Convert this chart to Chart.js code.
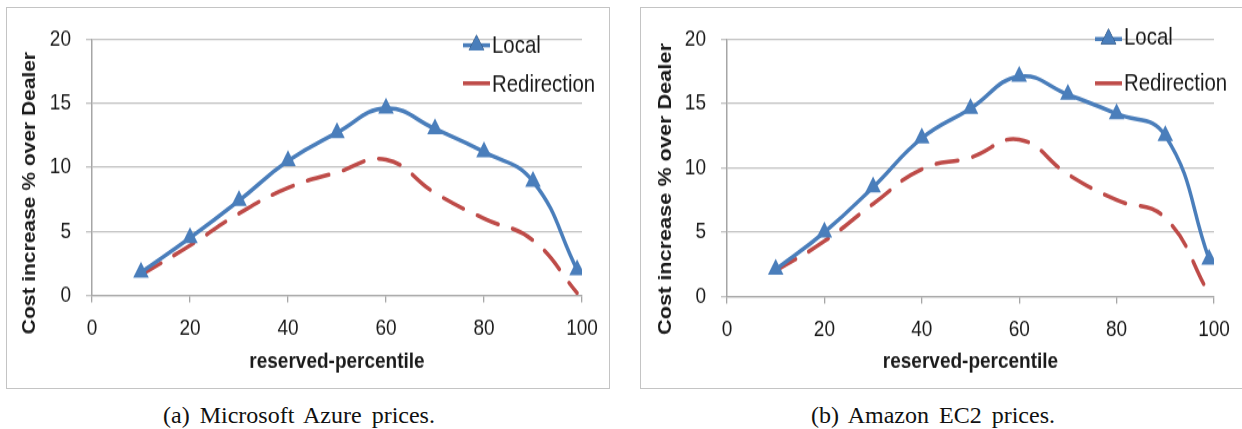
<!DOCTYPE html>
<html lang="en">
<head>
<meta charset="UTF-8">
<title>Cost increase over Dealer</title>
<script src="https://cdn.jsdelivr.net/npm/chart.js@4.4.1/dist/chart.umd.min.js"></script>
<style>
  body { margin: 0; width: 1242px; height: 429px; background: #fff; position: relative; overflow: hidden; }
  .panel { position: absolute; top: 7px; width: 602px; height: 380px; border: 1px solid #c4c4c4; overflow: hidden; }
  #panelA { left: 6px; }
  #panelB { left: 640px; width: 610px; }
  /* the figure is drawn a little squeezed, then stretched back vertically */
  .panel canvas { display: block; width: 602px; height: 322px; transform: scaleY(1.18); transform-origin: 0 0; }
  .caption { position: absolute; top: 403px; line-height: 24px; font-family: 'Liberation Serif', 'Times New Roman', serif; font-size: 24px; color: #111; white-space: nowrap; word-spacing: 4px; transform: translateX(-50%); }
</style>
</head>
<body>
<div class="panel" id="panelA"><canvas id="azure" width="602" height="322"></canvas></div>
<div class="panel" id="panelB"><canvas id="ec2" width="602" height="322"></canvas></div>
<div class="caption" style="left:299px">(a) Microsoft Azure prices.</div>
<div class="caption" style="left:933px">(b) Amazon EC2 prices.</div>

<script>
// reserved-percentile sample points
const percentiles = [10, 20, 30, 40, 50, 60, 70, 80, 90, 99];

// cost increase % over Dealer, Azure prices
const azureLocal = [1.8, 4.5, 7.4, 10.5, 12.7, 14.6, 13.0, 11.2, 8.9, 2.0];
const azureRedirection = [1.6, 3.9, 6.4, 8.4, 9.6, 10.6, 8.0, 6.0, 4.3, 0.2];

// cost increase % over Dealer, EC2 prices
const ec2Local = [2.1, 5.0, 8.5, 12.3, 14.6, 17.1, 15.7, 14.2, 12.5, 2.9];
const ec2Redirection = [2.0, 4.3, 7.2, 9.9, 10.8, 12.2, 9.5, 7.5, 6.1, 0.2];

const xTicks = [0, 20, 40, 60, 80, 100];
const yTicks = [0, 5, 10, 15, 20];

const BLUE = '#4a7ebb';
const RED = '#be4b48';
const INK = '#1a1a1a';
const SANS = "'Liberation Sans', Arial, sans-serif";

// rotated y title, placed freely inside the panel
const sideTitle = {
  id: 'sideTitle',
  afterDraw(chart, args, o) {
    const ctx = chart.ctx;
    ctx.save();
    ctx.translate(o.x, o.y);
    ctx.rotate(-Math.PI / 2);
    ctx.font = o.font;
    ctx.fillStyle = o.color;
    ctx.textAlign = 'center';
    ctx.textBaseline = 'middle';
    ctx.fillText(o.text, 0, 0);
    ctx.restore();
  }
};

// legend: short line sample (with marker for the Local series) + label
const boxLegend = {
  id: 'boxLegend',
  afterDraw(chart, args, o) {
    const ctx = chart.ctx;
    chart.data.datasets.forEach((ds, i) => {
      const base = o.baselines[i];
      const my = base - o.markerOffset[i];
      ctx.save();
      ctx.strokeStyle = ds.borderColor;
      ctx.lineWidth = 3.5;
      ctx.beginPath();
      ctx.moveTo(o.x, my);
      ctx.lineTo(o.x + 27, my);
      ctx.stroke();
      if (ds.pointRadius > 0) {
        Chart.helpers.drawPoint(ctx, { pointStyle: 'triangle', radius: ds.pointRadius, borderWidth: 0 }, o.x + 13.5, my);
        ctx.fillStyle = ds.pointBackgroundColor;
        ctx.fill();
      }
      ctx.fillStyle = INK;
      ctx.font = o.font;
      ctx.textAlign = 'left';
      ctx.textBaseline = 'alphabetic';
      ctx.fillText(ds.label, o.x + 29, base);
      ctx.restore();
    });
  }
};

function makeChart(id, local, redirection, L) {
  const pts = vals => vals.map((v, i) => ({ x: percentiles[i], y: v }));
  return new Chart(document.getElementById(id), {
    type: 'line',
    data: {
      datasets: [
        {
          label: 'Local',
          data: pts(local),
          borderColor: BLUE,
          backgroundColor: BLUE,
          pointBackgroundColor: BLUE,
          pointBorderColor: BLUE,
          pointBorderWidth: 0,
          pointStyle: 'triangle',
          pointRadius: 9,
          borderWidth: 3.5,
          tension: 0.45,
          order: 1
        },
        {
          label: 'Redirection',
          data: pts(redirection),
          borderColor: RED,
          backgroundColor: RED,
          borderDash: [22, 15],
          borderCapStyle: 'round',
          pointRadius: 0,
          borderWidth: 3.5,
          tension: 0.45,
          order: 2
        }
      ]
    },
    options: {
      responsive: false,
      animation: false,
      events: [],
      layout: { padding: { top: L.top, right: L.right, left: 0, bottom: 0 } },
      scales: {
        x: {
          type: 'linear',
          min: 0,
          max: 100,
          afterFit: s => { s.height = L.xHeight; },
          afterBuildTicks: s => { s.ticks = xTicks.map(v => ({ value: v })); },
          grid: { drawOnChartArea: false, color: '#a6a6a6', tickLength: 6, lineWidth: 1.3 },
          border: { color: '#a6a6a6', width: 1.3 },
          ticks: { padding: 10.5, color: INK, font: { family: SANS, size: 19 } },
          title: {
            display: true,
            text: 'reserved-percentile',
            color: INK,
            font: { family: SANS, size: 19, weight: 'bold' },
            padding: { top: 10.6, bottom: 10.6 }
          }
        },
        y: {
          type: 'linear',
          min: 0,
          max: 20,
          afterFit: s => { s.width = L.yWidth; },
          afterBuildTicks: s => { s.ticks = yTicks.map(v => ({ value: v })); },
          grid: { color: '#c0c0c0', lineWidth: 1.3, tickLength: 6 },
          border: { color: '#a6a6a6', width: 1.5 },
          ticks: { padding: 15, color: INK, font: { family: SANS, size: 19 } }
        }
      },
      plugins: {
        legend: { display: false },
        tooltip: { enabled: false },
        sideTitle: {
          text: 'Cost increase % over Dealer',
          x: L.titleX,
          y: L.titleY,
          font: 'bold ' + L.titleSize + 'px ' + SANS,
          color: INK
        },
        boxLegend: {
          x: L.legendX,
          baselines: L.legendBase,
          markerOffset: L.markerOffset,
          font: '20.4px ' + SANS
        }
      }
    },
    plugins: [sideTitle, boxLegend]
  });
}

makeChart('azure', azureLocal, azureRedirection, {
  top: 17.2, right: 27, xHeight: 78.4, yWidth: 85,
  titleX: 23, titleY: 156.8, titleSize: 17.8,
  legendX: 456, legendBase: [38.4, 70.9], markerOffset: [6.8, 7.1]
});

makeChart('ec2', ec2Local, ec2Redirection, {
  top: 17.2, right: 29, xHeight: 77.5, yWidth: 86,
  titleX: 25, titleY: 153.4, titleSize: 18.4,
  legendX: 454, legendBase: [31.4, 70.1], markerOffset: [5.1, 6.3]
});
</script>
</body>
</html>
